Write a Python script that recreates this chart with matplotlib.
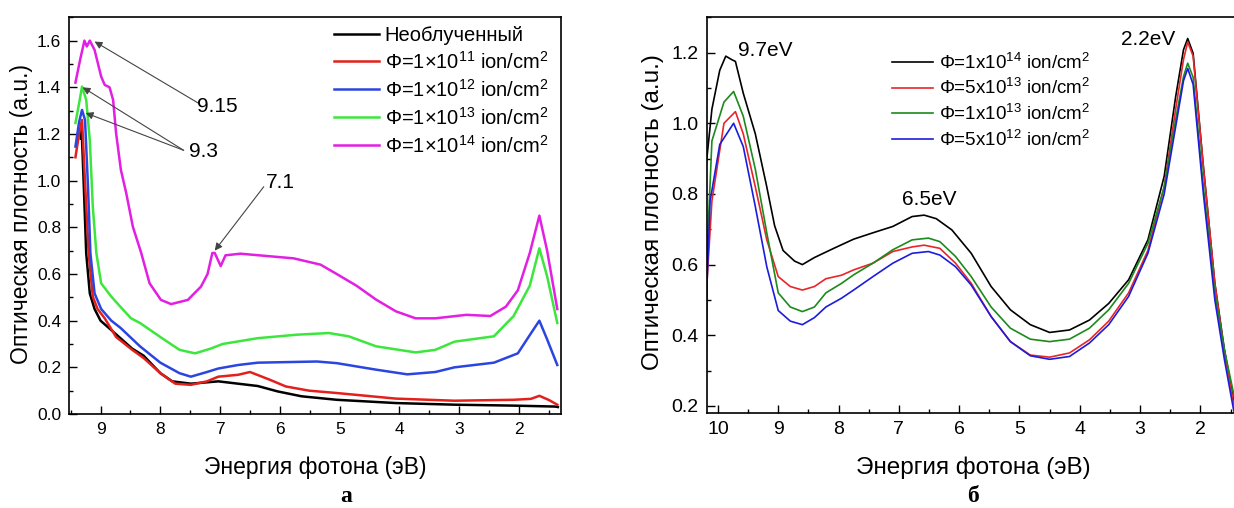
import matplotlib
matplotlib.use('Agg')
from matplotlib import pyplot as plt
from matplotlib.ticker import MultipleLocator

plt.rcParams['font.family'] = ['Liberation Sans', 'DejaVu Sans']
plt.rcParams['mathtext.fontset'] = 'custom'
plt.rcParams['mathtext.rm'] = 'Liberation Sans'
plt.rcParams['mathtext.it'] = 'Liberation Sans:italic'
plt.rcParams['mathtext.bf'] = 'Liberation Sans:bold'

# ---- панель а: данные ----
black_x = [9.33, 9.32, 9.28, 9.24, 9.18, 9.10, 9.00, 8.80, 8.47, 8.28, 8.00, 7.80, 7.49,
           7.03, 6.70, 6.37, 6.04, 5.64, 5.05, 4.06, 3.08, 2.09, 1.40, 1.35]
black_y = [1.18, 1.246, 0.974, 0.689, 0.517, 0.45, 0.40, 0.355, 0.28, 0.25, 0.175, 0.14, 0.13,
           0.14, 0.13, 0.12, 0.097, 0.076, 0.061, 0.047, 0.04, 0.036, 0.032, 0.03]

red_x = [9.42, 9.36, 9.31, 9.27, 9.20, 9.13, 9.05, 8.93, 8.74, 8.47, 8.28, 8.00, 7.75, 7.49,
         7.22, 7.03, 6.70, 6.50, 6.17, 5.90, 5.51, 5.05, 4.06, 3.08, 2.09, 1.80, 1.66, 1.50, 1.36]
red_y = [1.10, 1.20, 1.26, 1.046, 0.689, 0.503, 0.45, 0.41, 0.33, 0.275, 0.24, 0.175, 0.13, 0.125,
         0.14, 0.16, 0.168, 0.18, 0.147, 0.118, 0.10, 0.09, 0.066, 0.057, 0.061, 0.065, 0.078, 0.06, 0.04]

blue_x = [9.42, 9.36, 9.31, 9.26, 9.21, 9.17, 9.10, 8.99, 8.82, 8.67, 8.34, 8.00, 7.68, 7.49,
          7.22, 7.03, 6.70, 6.37, 5.38, 5.05, 4.39, 3.87, 3.40, 3.08, 2.42, 2.02, 1.79, 1.66,
          1.53, 1.36]
blue_y = [1.146, 1.25, 1.303, 1.26, 0.974, 0.689, 0.517, 0.45, 0.40, 0.37, 0.29, 0.22, 0.175, 0.16,
          0.18, 0.195, 0.21, 0.22, 0.225, 0.218, 0.19, 0.17, 0.18, 0.20, 0.22, 0.26, 0.35, 0.40,
          0.32, 0.21]

green_x = [9.42, 9.36, 9.31, 9.24, 9.18, 9.13, 9.07, 8.99, 8.82, 8.67, 8.49, 8.34, 8.00, 7.68,
           7.42, 7.16, 6.96, 6.37, 5.71, 5.18, 4.85, 4.39, 3.73, 3.40, 3.08, 2.42, 2.09, 1.82,
           1.66, 1.53, 1.36]
green_y = [1.247, 1.33, 1.403, 1.346, 1.174, 0.889, 0.689, 0.56, 0.503, 0.46, 0.41, 0.39, 0.33, 0.275,
           0.26, 0.28, 0.30, 0.325, 0.34, 0.347, 0.333, 0.29, 0.264, 0.275, 0.31, 0.333, 0.42, 0.55,
           0.71, 0.59, 0.39]

mag_x = [9.42, 9.34, 9.27, 9.23, 9.18, 9.10, 8.99, 8.93, 8.85, 8.79, 8.74, 8.66, 8.57, 8.46,
         8.32, 8.18, 7.99, 7.82, 7.54, 7.32, 7.21, 7.13, 7.09, 6.99, 6.91, 6.66, 5.77, 5.32,
         5.05, 4.72, 4.39, 4.06, 3.73, 3.40, 2.88, 2.48, 2.22, 2.02, 1.82, 1.66, 1.53, 1.36]
mag_y = [1.42, 1.52, 1.60, 1.575, 1.60, 1.56, 1.446, 1.41, 1.40, 1.346, 1.203, 1.046, 0.946, 0.803,
         0.69, 0.56, 0.489, 0.471, 0.489, 0.546, 0.60, 0.69, 0.69, 0.634, 0.68, 0.687, 0.667, 0.64,
         0.60, 0.55, 0.49, 0.44, 0.41, 0.41, 0.425, 0.42, 0.46, 0.53, 0.69, 0.85, 0.70, 0.45]

labels_a = ['Необлученный',
            'Φ=1×10$^{11}$ ion/cm$^2$',
            'Φ=1×10$^{12}$ ion/cm$^2$',
            'Φ=1×10$^{13}$ ion/cm$^2$',
            'Φ=1×10$^{14}$ ion/cm$^2$']

# ---- панель б ----
black_r_x = [10.22, 10.10, 9.97, 9.87, 9.77, 9.71, 9.58, 9.38, 9.19, 9.06, 8.92, 8.73, 8.60,
             8.40, 8.08, 7.75, 7.43, 7.10, 6.78, 6.58, 6.38, 6.12, 5.80, 5.47, 5.15, 4.82,
             4.50, 4.17, 3.84, 3.52, 3.19, 2.87, 2.60, 2.41, 2.28, 2.21, 2.12, 1.95, 1.76,
             1.60, 1.45, 1.30]
black_r_y = [0.84, 1.04, 1.15, 1.19, 1.18, 1.175, 1.085, 0.97, 0.82, 0.71, 0.64, 0.61, 0.60,
             0.62, 0.646, 0.672, 0.69, 0.708, 0.736, 0.74, 0.73, 0.698, 0.632, 0.538, 0.472, 0.43,
             0.408, 0.415, 0.443, 0.49, 0.557, 0.67, 0.85, 1.075, 1.208, 1.24, 1.198, 0.877, 0.547,
             0.358, 0.217, 0.12]

red_r_x = [10.20, 10.10, 9.90, 9.71, 9.58, 9.38, 9.19, 9.00, 8.80, 8.60, 8.40, 8.21, 7.95,
           7.75, 7.43, 7.10, 6.78, 6.58, 6.32, 6.06, 5.80, 5.47, 5.15, 4.82, 4.50, 4.17,
           3.84, 3.52, 3.19, 2.87, 2.60, 2.41, 2.28, 2.21, 2.12, 1.95, 1.76, 1.60, 1.45, 1.30]
red_r_y = [0.50, 0.78, 1.00, 1.033, 0.97, 0.82, 0.67, 0.566, 0.538, 0.528, 0.538, 0.56, 0.57,
           0.585, 0.604, 0.637, 0.65, 0.655, 0.646, 0.604, 0.547, 0.453, 0.382, 0.344, 0.338, 0.35,
           0.387, 0.44, 0.52, 0.64, 0.82, 1.04, 1.18, 1.23, 1.19, 0.877, 0.547, 0.35, 0.208, 0.11]

green_r_x = [10.20, 10.10, 9.90, 9.74, 9.58, 9.38, 9.19, 9.00, 8.80, 8.60, 8.40, 8.21, 7.95,
             7.75, 7.43, 7.10, 6.78, 6.51, 6.32, 6.06, 5.80, 5.47, 5.15, 4.82, 4.50, 4.17,
             3.84, 3.52, 3.19, 2.87, 2.60, 2.41, 2.28, 2.21, 2.12, 1.95, 1.76, 1.60, 1.45, 1.30]
green_r_y = [0.55, 0.95, 1.06, 1.09, 1.02, 0.87, 0.69, 0.52, 0.48, 0.467, 0.48, 0.52, 0.547,
             0.571, 0.604, 0.642, 0.67, 0.675, 0.665, 0.623, 0.566, 0.48, 0.42, 0.389, 0.382, 0.389,
             0.42, 0.472, 0.547, 0.66, 0.82, 1.01, 1.132, 1.17, 1.13, 0.82, 0.519, 0.358, 0.236, 0.13]

blue_r_x = [10.20, 10.18, 10.13, 9.97, 9.74, 9.58, 9.38, 9.19, 9.00, 8.80, 8.60, 8.40, 8.21,
            7.95, 7.75, 7.43, 7.10, 6.78, 6.51, 6.32, 6.06, 5.80, 5.47, 5.15, 4.82, 4.50,
            4.17, 3.84, 3.52, 3.19, 2.87, 2.60, 2.41, 2.28, 2.21, 2.12, 1.95, 1.76, 1.60, 1.45, 1.30]
blue_r_y = [0.20, 0.55, 0.78, 0.94, 1.00, 0.934, 0.764, 0.594, 0.47, 0.44, 0.43, 0.45, 0.48,
            0.505, 0.528, 0.566, 0.604, 0.632, 0.637, 0.627, 0.594, 0.542, 0.453, 0.382, 0.342, 0.332,
            0.34, 0.378, 0.43, 0.51, 0.632, 0.80, 0.99, 1.12, 1.155, 1.11, 0.80, 0.50, 0.33, 0.19, 0.10]

labels_b = ['Φ=1x10$^{14}$ ion/cm$^2$',
            'Φ=5x10$^{13}$ ion/cm$^2$',
            'Φ=1x10$^{13}$ ion/cm$^2$',
            'Φ=5x10$^{12}$ ion/cm$^2$']

ylabel = 'Оптическая плотность (a.u.)'
xlabel = 'Энергия фотона (эВ)'


def style_axes(ax, fs):
    ax.tick_params(which='both', direction='in', top=False, right=False, labelsize=fs, pad=6)
    ax.tick_params(which='major', length=6, width=1)
    ax.tick_params(which='minor', length=3, width=1)
    ax.xaxis.set_major_locator(MultipleLocator(1))
    ax.xaxis.set_minor_locator(MultipleLocator(0.5))
    ax.yaxis.set_major_locator(MultipleLocator(0.2))
    ax.yaxis.set_minor_locator(MultipleLocator(0.1))
    for s in ax.spines.values():
        s.set_linewidth(1.2)


fig = plt.figure(figsize=(12.34, 5.08), dpi=100)

# ---------------- а ----------------
ax1 = fig.add_axes([0.0563, 0.185, 0.3987, 0.781])
lw1 = 1.8
ax1.plot(black_x, black_y, color='black', lw=lw1, label=labels_a[0])
ax1.plot(red_x, red_y, color='#e3201b', lw=lw1, label=labels_a[1])
ax1.plot(blue_x, blue_y, color='#2b45e0', lw=lw1, label=labels_a[2])
ax1.plot(green_x, green_y, color='#3de63d', lw=lw1, label=labels_a[3])
ax1.plot(mag_x, mag_y, color='#e21fe2', lw=lw1, label=labels_a[4])
ax1.set_xlim(9.52, 1.29)
ax1.set_ylim(0, 1.70)
style_axes(ax1, 12.5)
ax1.set_xlabel(xlabel, fontsize=16.5, va='center')
ax1.xaxis.set_label_coords(0.5, -0.136)
ax1.set_ylabel(ylabel, fontsize=16.5, va='center')
ax1.yaxis.set_label_coords(-0.0965, 0.505)
ax1.legend(loc='upper left', bbox_to_anchor=(0.5386, 0.979), frameon=False, fontsize=14.5,
           handlelength=2.2, handletextpad=0.3, labelspacing=0.3, borderpad=0, borderaxespad=0)

arr = dict(arrowstyle='-|>', color='#444444', lw=0.8, mutation_scale=11, shrinkA=0, shrinkB=0)
ax1.annotate('', xy=(9.10, 1.596), xytext=(7.37, 1.333), arrowprops=arr)
ax1.annotate('', xy=(9.30, 1.40), xytext=(7.61, 1.13), arrowprops=arr)
ax1.annotate('', xy=(9.25, 1.29), xytext=(7.61, 1.13), arrowprops=arr)
ax1.annotate('', xy=(7.09, 0.70), xytext=(6.27, 0.974), arrowprops=arr)
ax1.text(7.39, 1.317, '9.15', fontsize=15, ha='left', va='center')
ax1.text(7.52, 1.124, '9.3', fontsize=15, ha='left', va='center')
ax1.text(6.24, 0.991, '7.1', fontsize=15, ha='left', va='center')

# ---------------- б ----------------
ax2 = fig.add_axes([0.573, 0.187, 0.432, 0.779])
lw2 = 1.2
ax2.plot(black_r_x, black_r_y, color='black', lw=lw2, label=labels_b[0])
ax2.plot(red_r_x, red_r_y, color='#e8262a', lw=lw2, label=labels_b[1])
ax2.plot(green_r_x, green_r_y, color='#1c8a1c', lw=lw2, label=labels_b[2])
ax2.plot(blue_r_x, blue_r_y, color='#1c1cdc', lw=lw2, label=labels_b[3])
ax2.set_xlim(10.18, 1.34)
ax2.set_ylim(0.18, 1.30)
style_axes(ax2, 14)
ax2.set_xlabel(xlabel, fontsize=17.5, va='center')
ax2.xaxis.set_label_coords(0.5, -0.139)
ax2.set_ylabel(ylabel, fontsize=17.5, va='center')
ax2.yaxis.set_label_coords(-0.101, 0.508)
ax2.legend(loc='upper left', bbox_to_anchor=(0.347, 0.911), frameon=False, fontsize=13.5,
           handlelength=2.2, handletextpad=0.3, labelspacing=0.3, borderpad=0, borderaxespad=0)

ax2.text(9.67, 1.205, '9.7eV', fontsize=15, ha='left', va='center')
ax2.text(6.94, 0.783, '6.5eV', fontsize=15, ha='left', va='center')
ax2.text(3.32, 1.238, '2.2eV', fontsize=15, ha='left', va='center')

fig.text(346 / 1234, 1 - 497 / 508, 'а', fontsize=17, fontweight='bold',
         family='Liberation Serif', ha='center', va='center')
fig.text(973 / 1234, 1 - 497 / 508, 'б', fontsize=17, fontweight='bold',
         family='Liberation Serif', ha='center', va='center')

fig.savefig('out.png', dpi=100)
